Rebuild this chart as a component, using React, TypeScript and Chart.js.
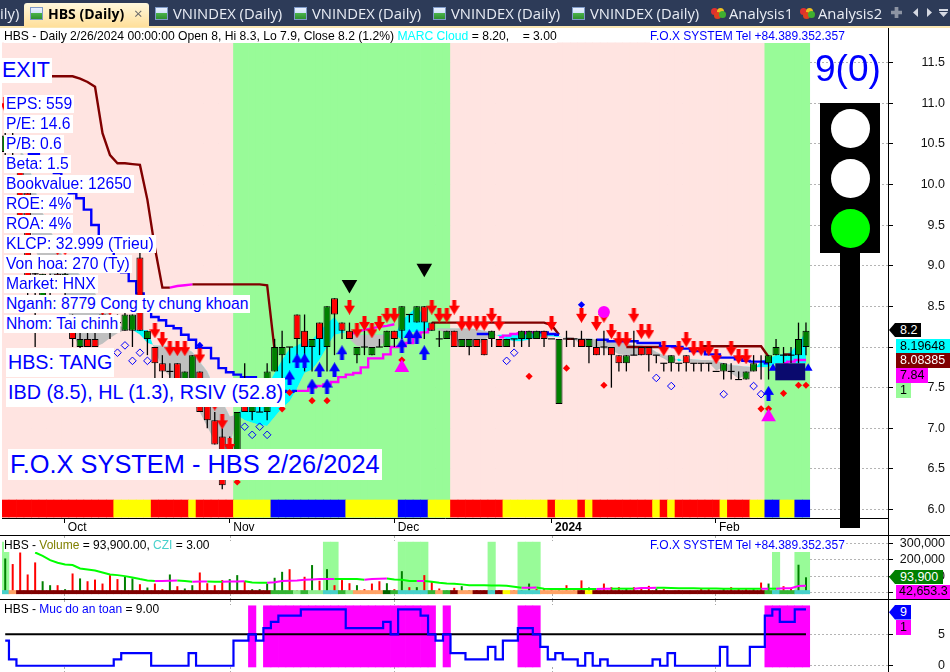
import React, { useEffect, useRef } from "react";
import { Chart, registerables } from "chart.js";

Chart.register(...registerables);

const openP = [10.4,10.6,10.2,9.9,8.9,8.6,8.8,8.9,8.7,8.2,8.0,8.1,8.1,8.4,8.3,8.3,8.2,8.2,9.1,8.1,8.0,7.8,7.7,7.8,7.5,7.4,7.7,7.3,7.1,6.9,6.8,6.7,7.3,7.2,7.2,7.2,7.7,7.9,8.0,8.4,8.2,8.0,8.3,8.0,8.6,8.3,8.2,7.9,8.0,7.9,8.0,8.0,8.2,8.2,8.4,8.3,8.5,8.3,8.1,8.1,8.2,8.0,8.0,8.1,8.1,8.1,8.1,8.0,8.1,8.1,8.1,8.1,8.2,8.1,7.3,8.1,8.1,8.1,8.0,8.0,8.0,8.0,7.9,7.8,7.9,8.0,8.0,7.9,7.8,7.8,7.8,7.9,7.8,7.8,7.8,7.7,7.7,7.7,7.6,7.6,7.7,7.8,7.8,7.9,7.9,7.9,7.9,8.0];
const highP = [10.7,10.7,10.3,10.0,9.0,8.9,8.9,9.0,9.0,8.4,8.2,8.2,8.2,8.5,8.4,8.4,8.5,8.4,9.2,8.2,8.0,7.9,7.8,7.8,7.7,7.9,7.7,7.3,7.2,7.0,6.9,7.2,7.8,7.3,7.3,7.8,8.1,8.2,8.0,8.4,8.4,8.1,8.3,8.5,8.6,8.3,8.3,8.0,8.2,8.0,8.1,8.2,8.2,8.5,8.4,8.5,8.5,8.3,8.2,8.2,8.2,8.1,8.1,8.1,8.1,8.2,8.1,8.1,8.1,8.2,8.2,8.2,8.2,8.1,8.1,8.2,8.1,8.2,8.1,8.1,8.2,8.0,7.9,7.9,8.2,8.0,8.0,7.9,7.8,7.9,7.8,7.9,7.8,7.8,7.8,7.7,7.8,7.8,7.7,7.7,7.9,7.9,7.9,8.1,8.0,8.0,8.3,8.3];
const lowP = [10.3,10.3,9.5,8.6,8.0,8.5,8.6,8.7,8.6,8.0,7.9,8.0,8.0,8.2,8.1,8.2,8.2,8.0,8.2,7.9,7.6,7.5,7.5,7.4,7.3,7.3,7.2,7.0,6.8,6.25,6.6,6.7,7.2,7.1,7.2,7.1,7.7,7.6,7.8,7.9,7.7,7.7,7.9,7.7,7.9,8.1,8.1,7.8,7.9,7.9,8.0,8.0,8.0,8.1,8.3,8.3,8.1,8.2,8.0,8.1,8.0,8.0,7.9,8.0,7.9,8.0,8.0,8.0,8.0,8.0,8.0,8.1,8.0,8.1,7.3,8.0,8.0,8.0,7.8,7.9,7.9,7.5,7.7,7.7,7.9,7.9,7.7,7.8,7.7,7.7,7.7,7.7,7.7,7.7,7.7,7.7,7.6,7.6,7.6,7.6,7.7,7.6,7.6,7.9,7.8,7.8,7.8,7.9];
const closeP = [10.6,10.4,9.6,8.7,8.9,8.9,8.8,8.8,8.9,8.1,8.1,8.0,8.0,8.3,8.3,8.3,8.4,8.4,8.2,8.2,7.8,7.7,7.7,7.5,7.7,7.9,7.2,7.1,6.8,6.3,6.6,7.2,7.2,7.3,7.2,7.7,8.0,8.0,8.0,8.1,8.0,8.1,8.1,8.5,8.4,8.2,8.1,8.0,8.0,8.0,8.0,8.2,8.1,8.5,8.4,8.5,8.3,8.2,8.1,8.2,8.0,8.1,8.1,8.0,7.9,8.2,8.0,8.1,8.1,8.2,8.2,8.2,8.1,8.1,8.1,8.1,8.1,8.0,8.1,7.9,8.0,7.9,7.8,7.9,7.9,7.9,7.9,7.9,7.8,7.9,7.8,7.8,7.8,7.8,7.8,7.7,7.8,7.7,7.6,7.7,7.8,7.8,7.9,8.0,7.9,7.9,8.1,8.2];

const cloudA = [null,null,10.14,9.65,9.19,9.01,8.89,8.76,8.66,8.15,8.00,8.00,8.00,8.04,8.11,8.17,8.21,8.21,8.21,8.21,7.96,7.74,7.64,7.51,7.39,7.31,7.20,7.02,6.84,6.79,6.75,7.18,7.27,7.31,7.37,7.51,7.68,7.84,7.98,8.02,8.07,8.09,8.19,8.29,8.37,8.23,8.10,8.01,8.00,8.00,8.00,8.09,8.13,8.33,8.41,8.50,8.37,8.23,8.21,8.17,8.12,8.02,8.00,8.01,8.09,8.14,8.15,8.15,8.16,8.19,8.19,8.19,8.17,8.15,8.13,8.11,8.10,8.02,8.00,8.00,7.98,7.96,7.91,7.90,7.90,7.90,7.92,7.90,7.86,7.80,7.86,7.81,7.81,7.81,7.81,7.71,7.75,7.68,7.61,7.66,7.71,7.83,7.86,7.90,7.91,7.94,8.05,8.19];
const cloudB = [null,null,10.42,10.30,9.93,9.65,9.44,9.25,9.05,8.97,8.89,8.76,8.66,8.53,8.39,8.27,8.23,8.21,8.15,8.05,8.02,8.02,8.01,8.00,7.99,7.94,7.82,7.70,7.49,7.33,7.15,7.16,7.10,7.07,7.04,7.03,7.14,7.25,7.33,7.49,7.68,7.72,7.84,8.00,8.15,8.17,8.19,8.15,8.15,8.15,8.15,8.16,8.15,8.09,8.17,8.19,8.19,8.21,8.23,8.23,8.23,8.23,8.23,8.22,8.20,8.18,8.13,8.09,8.07,8.07,8.09,8.12,8.13,8.13,8.12,8.12,8.11,8.11,8.11,8.09,8.08,8.07,8.05,8.05,8.02,8.02,8.00,7.94,7.90,7.90,7.82,7.86,7.85,7.84,7.84,7.83,7.80,7.78,7.77,7.76,7.75,7.75,7.75,7.80,7.80,7.80,7.80,7.80];

type Run = [number, number[]];
const baseBlueRuns: Run[] = [
  [3,[10.37,10.37,10.30,10.23,10.14,10.03,9.89,9.83,9.69,9.50,9.32,9.17,9.02,8.92,8.81,8.66,8.52,8.37,8.33,8.26,8.23,8.15,8.09,7.99,7.99,7.86,7.74,7.69,7.66,7.63,7.63,7.54,7.50,7.47,7.46,7.45,7.46]],
  [63,[8.16,8.16,8.16]],
  [71,[8.18,8.18,8.16,8.15]],
  [79,[8.09,8.09,8.07,8.07,8.07,8.07,8.05,8.05,8.05,8.01,8.01,8.00,7.98,7.95,7.95,7.91,7.91,7.87,7.87,7.85,7.83,7.82,7.82,7.80]],
];
const baseMagentaRuns: Run[] = [
  [39,[7.46,7.46,7.50,7.52,7.54,7.57,7.63,7.66,7.68,7.75,7.86,7.86,7.91,8.00,8.01,8.05,8.12,8.18,8.22]],
  [66,[8.12,8.14,8.16,8.17,8.18,8.18]],
  [104,[7.80,7.82,7.84,7.84]],
];
const stopRedRuns: Run[] = [
  [5,[11.33,11.33,11.33,11.33,11.33,11.30,11.26,11.20,10.63,10.36,10.26,10.26,10.25,10.24,9.81,9.22,8.73,8.73]],
  [25,[8.77,8.77,8.77,8.77,8.77,8.77,8.77,8.77,8.77,8.77,8.76,7.96]],
  [57,[8.30,8.30,8.30,8.30,8.30,8.30,8.30,8.30,8.30,8.30,8.30,8.30,8.30,8.30,8.30,8.30,8.27,8.15]],
  [75,[8.10,8.10]],
  [83,[8.0,8.0,8.0,8.0,8.0,8.0]],
  [93,[8.01,8.01,8.01,8.01,8.01,8.01,8.01,8.01,8.01,7.88]],
  [104,[7.91,7.91]],
];
const stopMagentaRuns: Run[] = [
  [22,[8.73,8.75,8.76,8.77]],
  [46,[8.15,8.19,8.21,8.23,8.25,8.26,8.28]],
  [89,[8.0,7.99]],
];

const sellX = [0,7,8,13,14,20,21,22,23,24,26,28,29,30,46,47,48,49,50,51,52,57,58,59,60,61,62,63,64,65,66,73,77,79,80,81,82,83,84,85,86,88,90,91,92,93,94,95,97,98,99];
const sellY = [10.98,9.22,9.22,8.48,8.48,8.2,8.09,7.98,7.98,7.98,7.89,7.31,7.08,6.79,8.49,8.2,8.29,8.2,8.29,8.39,8.39,8.49,8.39,8.39,8.49,8.29,8.29,8.29,8.29,8.39,8.29,8.29,8.39,8.29,8.39,8.19,8.09,8.09,8.39,8.19,8.19,7.98,7.98,8.09,7.98,7.98,7.98,7.88,7.98,7.88,7.88];
const buyX = [38,39,40,41,42,43,44,45,53,54,55,56,102];
const buyY = [7.62,7.83,7.83,7.52,7.72,7.52,7.72,7.93,8.02,8.13,8.13,7.93,7.43];
const redDotX = [31,37,38,41,43,53,70,75,80,101,102,104,106,107];
const redDotY = [6.34,7.24,7.44,7.34,7.34,7.84,7.64,7.74,7.53,7.24,7.24,7.43,7.53,7.53];
const hollowX = [15,16,17,18,19,32,33,34,35,67,68,87,89,96,100,101];
const hollowY = [7.93,8.02,7.83,7.93,7.83,7.02,6.92,7.02,6.92,7.83,7.93,7.62,7.52,7.42,7.52,7.42];
const blueDiamondX = [26,77];
const blueDiamondY = [8.02,8.52];
const pinkCircleX = [80];
const pinkCircleY = [8.43];
const topSignalX = [46,56];
const topSignalY = [8.77,8.97];
const bottomSignalX = [53,102];
const bottomSignalY = [7.745,7.14];
const navyX = [102.9,106.9];
const navyY = [7.695,7.695];
const navyTipX = [102.6,107.3];
const navyTipY = [7.74,7.74];

const regimeRuns: [string, number][] = [["#ffe4e1",31],["#98fb98",29],["#ffe4e1",42],["#98fb98",6]];
const R = "#ff0000", Y = "#ffff00", B = "#0000ff";
const stateRuns: [string, number][] = [[R,15],[Y,5],[R,5],[Y,1],[R,5],[Y,5],[B,10],[Y,7],[B,4],[Y,3],[R,7],[Y,6],[R,1],[Y,3],[R,1],[Y,1],[R,8],[Y,1],[R,1],[Y,1],[R,6],[Y,1],[R,3],[Y,2],[B,2],[Y,2],[B,2]];

const volumeK = [208,174,244,111,184,70,46,46,22,117,87,70,80,56,107,83,97,87,52,32,56,22,111,40,26,46,123,58,46,77,83,107,70,22,22,56,91,127,143,16,97,168,73,143,46,77,58,46,22,56,70,58,22,131,34,34,107,70,26,14,30,40,16,16,14,14,16,10,16,16,56,22,22,26,16,46,16,75,32,16,56,34,34,26,34,26,42,26,22,10,16,10,10,26,22,10,22,34,26,22,22,62,56,14,40,30,170,93.9];
const volumeSide = "grrrrggrgrgrrrrrggrgrrgrggrrrrggrgggggrrrgrgrrrgrrrgrgrgrrrgrggrrgrgrggrrrgrrrgrrrrgrrrgrgrrrrrrgrrrgrggrrgg";
const volumeMaK = [null,null,null,null,244,224,198,182,172,168,147,141,135,123,111,107,101,93,83,75,71,72,73,74,71,67,68,69,67,67,68,69,70,62,61,61,64,71,73,75,79,81,83,83.5,84,84,83,83,79,83,85,86,81,79,71,71,72,67,61,57,55,51,46,46,45,44,44,42,36,30,31,32,25,23,23,23,23,23,23,23,24,25,25,25,25,29,29.5,30,30,29,28,28,28,26,26,26,25,25,25,25,25,24,25,25,27,28,41,42.65];
const TE = "#48d1cc", OR = "#ffa366", DR = "#800000", GR = "#32b432", LG = "#90ee90", DG = "#006400";
const stripRuns: [string, number][] = [[TE,1],[OR,1],[DR,34],[GR,3],[LG,1],[GR,1],[LG,2],[TE,2],[GR,1],[LG,1],[OR,4],[DG,1],[GR,1],[TE,4],[GR,1],[OR,1],[GR,1],[DR,1],[OR,2],[DR,2],[TE,1],[DR,1],[Y,1],[OR,1],[TE,3],[OR,5],[DR,1],[Y,1],[DR,23],[GR,1],[TE,1],[GR,2],[TE,2]];
const volBandLateIdx = 100;
const volBandTopK = 307;
const volBandLateTopK = 245;

const safety = [4,1,0,0,0,0,0,0,0,0,0,0,0,0,0,1,2,2,2,2,0,0,0,0,0,2,0,0,0,0,0,4,4,5,4,6,7,8,8,8,9,9,9,9,9,9,6,6,6,6,6,7,5,9,9,9,8,5,4,5,2,2,1,1,1,3,1,4,4,6,6,5,3,1,2,1,1,0,2,0,1,0,0,0,0,0,0,1,0,2,0,0,0,0,0,0,3,0,0,0,3,3,8,9,7,7,9,9];
const safetyLevel = 5;

const xTickIdx = [7.9,30,52,73,94.9];
const xTickNames = ["Oct","Nov","Dec","2024","Feb"];
const priceTicks = [6,6.5,7,7.5,8,8.5,9,9.5,10,10.5,11,11.5];
const volumeTicks = [0,100000,200000,300000];
const safetyTicks = [0,5];

const infoRows = ["EPS: 559","P/E: 14.6","P/B: 0.6","Beta: 1.5","Bookvalue: 12650","ROE: 4%","ROA: 4%","KLCP: 32.999 (Trieu)","Von hoa: 270 (Ty)","Market: HNX","Nganh: 8779 Cong ty chung khoan","Nhom: Tai chinh"];

const FONT = "'Liberation Sans', Arial, sans-serif";
const N = 108;
const X_MIN = -0.43;
const X_MAX = 117.96;
const LAST_EDGE = 107.5;

const expand = (runs: [string, number][]) => runs.flatMap(([c, n]) => Array(n).fill(c) as string[]);
const fromRuns = (runs: Run[]) =>
  runs.map(([from, vals]) => vals.map((y, k) => ({ x: from + k, y })));
const joinRuns = (runs: Run[]) => {
  const out: { x: number; y: number | null }[] = [];
  fromRuns(runs).forEach((r) => { out.push(...r); out.push({ x: r[r.length - 1].x + 0.01, y: null }); });
  return out;
};
const pts = (xs: number[], ys: number[]) => xs.map((x, k) => ({ x, y: ys[k] }));

function arrow(color: string, up: boolean) {
  const c = document.createElement("canvas");
  c.width = 11; c.height = 15;
  const g = c.getContext("2d")!;
  g.fillStyle = color;
  g.beginPath();
  if (up) {
    g.moveTo(5.5,0); g.lineTo(11,9); g.lineTo(7.5,9); g.lineTo(7.5,15); g.lineTo(3.5,15); g.lineTo(3.5,9); g.lineTo(0,9);
  } else {
    g.moveTo(5.5,15); g.lineTo(11,6); g.lineTo(7.5,6); g.lineTo(7.5,0); g.lineTo(3.5,0); g.lineTo(3.5,6); g.lineTo(0,6);
  }
  g.closePath(); g.fill();
  return c;
}

const barSet = (data: any[], color: any, thick?: number, extra: any = {}) => ({
  type: "bar", data, backgroundColor: color, grouped: false, barPercentage: 1, categoryPercentage: 1,
  borderWidth: 0, ...(thick ? { maxBarThickness: thick, inflateAmount: 0 } : {}), ...extra,
});
const lineSet = (data: any[], color: string, width: number, extra: any = {}) => ({
  type: "line", data, borderColor: color, borderWidth: width, pointRadius: 0, fill: false, tension: 0, spanGaps: false, ...extra,
});
const markSet = (data: any[], style: any, radius: number, color: string, extra: any = {}) => ({
  type: "scatter", data, showLine: false, pointStyle: style, pointRadius: radius, pointBackgroundColor: color, pointBorderColor: color, pointBorderWidth: 0, ...extra,
});

function ordered(ds: any[]) {
  return ds.map((d, k) => ({ ...d, order: ds.length - k }));
}

function panelPlugin(whiteBacking: boolean) {
  return {
    id: "panelBacking",
    beforeDatasetsDraw(chart: any) {
      if (!whiteBacking) return;
      const { ctx, chartArea, scales } = chart;
      const r = scales.x.getPixelForValue(LAST_EDGE);
      ctx.save();
      ctx.fillStyle = "#fff";
      ctx.fillRect(chartArea.left, chartArea.top, r - chartArea.left, chartArea.bottom - chartArea.top);
      ctx.strokeStyle = "#aaa";
      ctx.setLineDash([2, 2]);
      xTickIdx.forEach((t) => {
        const px = Math.round(scales.x.getPixelForValue(t)) + 0.5;
        ctx.beginPath();
        ctx.moveTo(px, chartArea.top); ctx.lineTo(px, chartArea.top + 5);
        ctx.moveTo(px, chartArea.bottom - 5); ctx.lineTo(px, chartArea.bottom);
        ctx.stroke();
      });
      ctx.restore();
    },
  };
}

function build(canvas: HTMLCanvasElement, datasets: any[], o: any) {
  return new Chart(canvas, {
    type: "bar",
    data: { datasets: ordered(datasets) },
    plugins: [panelPlugin(o.white)],
    options: {
      animation: false, responsive: false, devicePixelRatio: 1,
      layout: { autoPadding: false, padding: { left: 2, right: 5, top: 0, bottom: 0 } },
      plugins: { legend: { display: false }, tooltip: { enabled: false } },
      scales: {
        x: {
          type: "linear", min: X_MIN, max: X_MAX, offset: false,
          afterBuildTicks: (s: any) => { s.ticks = xTickIdx.map((value) => ({ value })); },
          afterFit: (s: any) => { s.height = o.xHeight; s.paddingLeft = 0; s.paddingRight = 0; },
          grid: { display: o.xHeight > 0, drawOnChartArea: false, offset: false, tickLength: 5, tickColor: "#000" },
          border: { display: o.xHeight > 0, color: "#000" },
          ticks: {
            display: o.xHeight > 0, autoSkip: false, maxRotation: 0, align: "start", labelOffset: 3.5, padding: -3, color: "#000",
            font: (ctx: any) => ({ family: FONT, size: 12, weight: ctx.tick && ctx.tick.value === 73 ? "bold" : "normal" }),
            callback: (v: number) => xTickNames[xTickIdx.indexOf(v)] ?? "",
          },
        },
        y: {
          type: "linear", position: "right", min: o.min, max: o.max,
          afterBuildTicks: (s: any) => { s.ticks = o.ticks.map((value: number) => ({ value })); },
          afterFit: (s: any) => { s.width = 57; s.paddingTop = 0; s.paddingBottom = 0; },
          grid: { color: "#b4b4b4", tickColor: "#000", tickLength: 5, tickBorderDash: [], drawTicks: true },
          border: { display: true, color: "#000", dash: [2, 2] },
          ticks: {
            autoSkip: false, crossAlign: "far", padding: 2, color: "#111", font: { family: FONT, size: 12.5 },
            callback: o.fmt,
          },
        },
      },
    } as any,
  } as any);
}

const abs = (x: number, y: number, extra: React.CSSProperties = {}): React.CSSProperties => ({
  position: "absolute", left: x, top: y, whiteSpace: "pre", fontFamily: FONT, ...extra,
});

function Label({ x, y, h, size, children, px = 2 }: any) {
  return (
    <div style={abs(x, y, { height: h, lineHeight: h + "px", fontSize: size, color: "#0000ff", background: "#fff", padding: `0 ${px}px` })}>
      {children}
    </div>
  );
}

function Pill({ x, y, w, h, bg, fg, pointer, tx, children }: any) {
  return (
    <div style={abs(x, y, {
      width: w, height: h, background: bg, color: fg, fontSize: 12.5, lineHeight: h + "px",
      clipPath: pointer ? `polygon(0 50%, 6px 0, 100% 0, 100% 100%, 6px 100%)` : undefined,
    })}>
      <span style={{ position: "absolute", left: tx ?? 1 }}>{children}</span>
    </div>
  );
}

function ChartIcon({ x }: { x: number }) {
  return (
    <div style={{ position: "absolute", left: x, top: 7, width: 13, height: 13, border: "1px solid #7f9ac8", boxSizing: "border-box", background: "linear-gradient(180deg,#eaf2ff 0%,#cfe0f8 50%,#48b048 50%,#2f8f2f 100%)" }} />
  );
}
function HeartIcon({ x }: { x: number }) {
  const dot = (l: number, t: number, c: string) => (
    <div style={{ position: "absolute", left: x + l, top: t, width: 7, height: 7, borderRadius: 4, background: c }} />
  );
  return <>{dot(0, 8, "#e03030")}{dot(6, 8, "#f0c020")}{dot(3, 12, "#e04020")}{dot(8, 11, "#40b030")}</>;
}

function Tab({ x, text }: { x: number; text: string }) {
  return <div style={{ position: "absolute", left: x, top: 3, fontFamily: "'Open Sans', sans-serif", fontSize: 14.8, lineHeight: "21px", color: "#e9edf5", whiteSpace: "pre" }}>{text}</div>;
}

export default function App() {
  const mainRef = useRef<HTMLCanvasElement>(null);
  const volRef = useRef<HTMLCanvasElement>(null);
  const safeRef = useRef<HTMLCanvasElement>(null);

  useEffect(() => {
    document.body.style.margin = "0";
    document.body.style.background = "#fff";
    const idx = Array.from({ length: N }, (_, i) => i);
    const regime = expand(regimeRuns);
    const states = expand(stateRuns);
    const strip = expand(stripRuns);

    const wicks = idx.map((i) => ({ x: i, y: [lowP[i], highP[i]] }));
    const bodies = idx.filter((i) => openP[i] !== closeP[i]).map((i) => ({ x: i, y: [Math.min(openP[i], closeP[i]), Math.max(openP[i], closeP[i])] }));
    const bodyColors = idx.filter((i) => openP[i] !== closeP[i]).map((i) => (closeP[i] > openP[i] ? "#008000" : "#ff0000"));
    const dojis = idx.filter((i) => openP[i] === closeP[i] && i !== 101).map((i) => ({ x: i, y: [openP[i] - 0.007, openP[i] + 0.007] }));

    const mainDatasets = [
      barSet(idx.map((i) => ({ x: i, y: [5.905, 11.74] })), regime),
      barSet(idx.map((i) => ({ x: i, y: [5.909, 6.118] })), states),
      lineSet(idx.map((i) => ({ x: i, y: cloudA[i] })).filter((p) => p.y !== null), "transparent", 0, {
        fill: { target: "+1", above: "#00ffff", below: "#c0c0c0" },
      }),
      lineSet(idx.map((i) => ({ x: i, y: cloudB[i] })).filter((p) => p.y !== null), "transparent", 0),
      lineSet(joinRuns(stopRedRuns), "#800000", 2.4),
      lineSet(joinRuns(stopMagentaRuns), "#ff00ff", 2.4),
      lineSet(joinRuns(baseBlueRuns), "#0000ff", 2.4, { stepped: "middle" }),
      lineSet(joinRuns(baseMagentaRuns), "#ff00ff", 2.4, { stepped: "middle" }),
      barSet(wicks, "#000", 1.3),
      barSet(bodies, bodyColors, 7, { borderColor: "#000", borderWidth: 1, borderSkipped: false }),
      barSet(dojis, "#000", 7),
      markSet(pts(navyTipX, navyTipY), "triangle", 5, "#0000ff"),
      lineSet(pts(navyX, navyY), "#0a0a6e", 17, { borderCapStyle: "butt" }),
      markSet(pts(buyX, buyY), arrow("#0000ff", true), 8, "#0000ff"),
      markSet(pts(sellX, sellY), arrow("#ff0000", false), 8, "#ff0000"),
      markSet(pts(redDotX, redDotY), "rectRot", 3.6, "#ff0000"),
      markSet(pts(hollowX, hollowY), "rectRot", 3.8, "transparent", { pointBorderColor: "#0000ff", pointBorderWidth: 1 }),
      markSet(pts(blueDiamondX, blueDiamondY), "rectRot", 3.6, "#0000ff"),
      markSet(pts(pinkCircleX, pinkCircleY), "circle", 6, "#ff00ff"),
      markSet(pts(topSignalX, topSignalY), "triangle", 9, "#000", { pointRotation: 180 }),
      markSet(pts(bottomSignalX, bottomSignalY), "triangle", 8.5, "#ff00ff"),
    ];
    const main = build(mainRef.current!, mainDatasets, {
      min: 5.897, max: 11.936, ticks: priceTicks, xHeight: 17, white: false,
      fmt: (v: number) => v.toFixed(1),
    });

    const bandIdx = idx.filter((i) => strip[i] === TE);
    const volDatasets = [
      barSet(bandIdx.map((i) => ({ x: i, y: [-6, i > volBandLateIdx ? volBandLateTopK : volBandTopK] })), "#98fb98"),
      barSet(idx.map((i) => ({ x: i, y: [0, volumeK[i]] })), idx.map((i) => (volumeSide[i] === "g" ? "#008000" : "#ff0000")), 2),
      barSet(idx.map((i) => ({ x: i, y: [-6, 14] })), strip),
      lineSet(idx.map((i) => ({ x: i, y: volumeMaK[i] })), "#00ff00", 2, {
        segment: { borderColor: (c: any) => (c.p1.parsed.y > c.p0.parsed.y ? "#ff00ff" : "#00ff00") },
      }),
    ];
    const vol = build(volRef.current!, volDatasets, {
      min: -37.6, max: 344, ticks: volumeTicks.map((v) => v / 1000), xHeight: 0, white: true,
      fmt: (v: number) => (v * 1000).toLocaleString("en-US"),
    });

    const safeDatasets = [
      barSet(idx.filter((i) => safety[i] >= safetyLevel).map((i) => ({ x: i, y: [-0.2, 9.56] })), "#ff00ff"),
      lineSet(idx.map((i) => ({ x: i, y: safetyLevel })), "#000", 2),
      lineSet(idx.map((i) => ({ x: i, y: safety[i] })), "#0000ff", 2.2, { stepped: "middle" }),
    ];
    const safe = build(safeRef.current!, safeDatasets, {
      min: -1, max: 10.48, ticks: safetyTicks, xHeight: 0, white: true,
      fmt: (v: number) => String(v),
    });
    return () => { main.destroy(); vol.destroy(); safe.destroy(); };
  }, []);

  const small: React.CSSProperties = { fontSize: 12, lineHeight: "14px", background: "#fff", color: "#000" };
  return (
    <div style={{ position: "relative", width: 950, height: 672, overflow: "hidden", background: "#fff" }}>
      <canvas ref={mainRef} width={950} height={508} style={{ position: "absolute", left: 0, top: 27 }} />
      <canvas ref={volRef} width={950} height={63} style={{ position: "absolute", left: 0, top: 536 }} />
      <canvas ref={safeRef} width={950} height={72} style={{ position: "absolute", left: 0, top: 600 }} />

      <div style={{ position: "absolute", left: 0, top: 535, width: 950, height: 1, background: "#000" }} />
      <div style={{ position: "absolute", left: 0, top: 599, width: 950, height: 1, background: "#000" }} />
      <div style={{ position: "absolute", left: 888, top: 27, width: 1, height: 645, background: "#000" }} />

      <div style={{ position: "absolute", left: 0, top: 0, width: 950, height: 26, background: "#2d3b58" }} />
      <div style={{ position: "absolute", left: 0, top: 26, width: 950, height: 1.5, background: "#fbe7b2" }} />
      <div style={{ position: "absolute", left: 24, top: 3, width: 125, height: 24, borderRadius: "3px 3px 0 0", background: "linear-gradient(180deg,#fff8dc,#ffdf9a)" }} />
      <Tab x={0} text="ily)" />
      <ChartIcon x={30} />
      <div style={{ position: "absolute", left: 48, top: 3, fontFamily: "'Open Sans', sans-serif", fontWeight: 700, fontSize: 14, lineHeight: "21px", color: "#000", whiteSpace: "pre" }}>HBS (Daily)</div>
      <div style={{ position: "absolute", left: 134, top: 3, fontFamily: "'Open Sans', sans-serif", fontSize: 15, lineHeight: "21px", color: "#6a6a6a" }}>×</div>
      {[155, 294, 433, 572].map((x) => <ChartIcon key={x} x={x} />)}
      {[173, 312, 451, 590].map((x) => <Tab key={x} x={x} text="VNINDEX (Daily)" />)}
      <HeartIcon x={711} />
      <Tab x={729} text="Analysis1" />
      <HeartIcon x={800} />
      <Tab x={818} text="Analysis2" />
      <div style={{ position: "absolute", left: 891, top: 7, width: 11, height: 11, background: "#8d94a3", clipPath: "polygon(33% 0,67% 0,67% 33%,100% 33%,100% 67%,67% 67%,67% 100%,33% 100%,33% 67%,0 67%,0 33%,33% 33%)" }} />
      <div style={{ position: "absolute", left: 913, top: 8, width: 5, height: 9, background: "#d5d9e2", clipPath: "polygon(100% 0,100% 100%,0 50%)" }} />
      <div style={{ position: "absolute", left: 927, top: 8, width: 5, height: 9, background: "#d5d9e2", clipPath: "polygon(0 0,100% 50%,0 100%)" }} />
      <div style={{ position: "absolute", left: 939, top: 9, width: 9, height: 2, background: "#d5d9e2" }} />
      <div style={{ position: "absolute", left: 939, top: 12, width: 9, height: 5, background: "#d5d9e2", clipPath: "polygon(0 0,100% 0,50% 100%)" }} />

      <div style={abs(4, 29, { ...small, fontSize: 12.15 })}>
        <span>HBS - Daily 2/26/2024 00:00:00 Open 8, Hi 8.3, Lo 7.9, Close 8.2 (1.2%) </span>
        <span style={{ color: "#00ffff" }}>MARC Cloud</span>
        <span> = 8.20,    = 3.00</span>
      </div>
      <div style={abs(650, 29, { ...small, color: "#0000ff" })}>F.O.X SYSTEM Tel +84.389.352.357</div>

      <Label x={0} y={58} h={25} size={21.5}>EXIT</Label>
      {infoRows.map((t, k) => (
        <Label key={t} x={4} y={95 + k * 20} h={18} size={15.7}>{t}</Label>
      ))}
      <Label x={6} y={348} h={29} size={19.7}>HBS: TANG</Label>
      <Label x={6} y={378} h={29} size={19.8}>IBD (8.5), HL (1.3), RSIV (52.8)</Label>
      <Label x={8} y={449} h={31} size={25.4}>F.O.X SYSTEM - HBS 2/26/2024</Label>

      <div style={abs(815, 47, { fontSize: 37, lineHeight: "44px", color: "#0000ff" })}>9(0)</div>
      <div style={{ position: "absolute", left: 820, top: 103, width: 60, height: 150, background: "#000" }} />
      <div style={{ position: "absolute", left: 840, top: 253, width: 20, height: 275, background: "#000" }} />
      {["#fff", "#fff", "#00ff00"].map((c, k) => (
        <div key={k} style={{ position: "absolute", left: 831, top: 109 + k * 50, width: 39, height: 39, borderRadius: "50%", background: c }} />
      ))}

      <Pill x={889} y={323} w={32} h={14} bg="#000" fg="#fff" pointer tx={11}>8.2</Pill>
      <Pill x={896} y={338.5} w={54} h={14.5} bg="#00ffff" fg="#000" tx={4}>8.19648</Pill>
      <Pill x={896} y={353} w={54} h={15} bg="#800000" fg="#fff" tx={4}>8.08385</Pill>
      <Pill x={896} y={368} w={32} h={15} bg="#ff00ff" fg="#000" tx={4}>7.84</Pill>
      <Pill x={896} y={383} w={15} h={15} bg="#98fb98" fg="#000" tx={4}>1</Pill>

      <div style={abs(4, 538, small)}>
        <span>HBS - </span><span style={{ color: "#808000" }}>Volume</span><span> = 93,900.00, </span>
        <span style={{ color: "#48d1cc" }}>CZI</span><span> = 3.00</span>
      </div>
      <div style={abs(650, 538, { ...small, color: "#0000ff" })}>F.O.X SYSTEM Tel +84.389.352.357</div>
      <Pill x={889} y={570} w={54} h={14} bg="#008000" fg="#fff" pointer tx={11}>93,900</Pill>
      <Pill x={896} y={585} w={54} h={13.5} bg="#ff00ff" fg="#000" tx={3}>42,653.3</Pill>

      <div style={abs(4, 602, small)}>
        <span>HBS - </span><span style={{ color: "#0000ff" }}>Muc do an toan</span><span> = 9.00</span>
      </div>
      <Pill x={889} y={605} w={22} h={14.5} bg="#0000ff" fg="#fff" pointer tx={11}>9</Pill>
      <Pill x={896} y={620} w={15} h={14.5} bg="#ff00ff" fg="#000" tx={4}>1</Pill>
    </div>
  );
}
